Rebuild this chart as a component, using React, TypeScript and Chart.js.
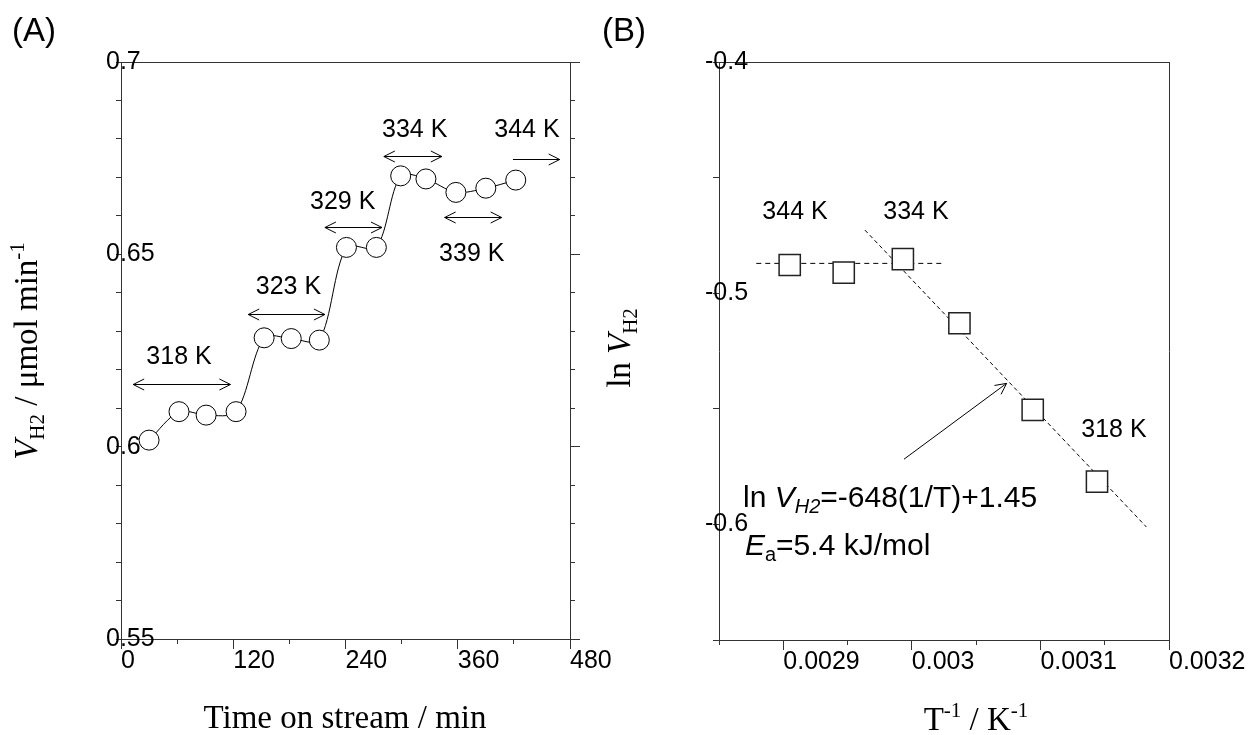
import React, { useEffect, useRef } from 'react';
import { Chart, registerables } from 'chart.js';

Chart.register(...registerables);

const SANS = '"Liberation Sans", Arial, sans-serif';
const SERIF = '"Liberation Serif", "Times New Roman", serif';
const AXIS_COLOR = '#333333';

// ---------- Panel A : rate vs time on stream ----------
const TIME_MIN = [30, 62, 91, 123, 153, 182, 212, 241, 273, 299, 326, 358, 390, 422];
const RATE_H2 = [0.6017, 0.6091, 0.6082, 0.6091, 0.6283, 0.6281, 0.6277, 0.6518, 0.6518, 0.6704, 0.6696, 0.6661, 0.6672, 0.6693];
const A_X_MAJOR = [0, 120, 240, 360, 480];
const A_X_MINOR = [0, 60, 120, 180, 240, 300, 360, 420, 480];
const A_Y_TICKS = [0.55, 0.56, 0.57, 0.58, 0.59, 0.6, 0.61, 0.62, 0.63, 0.64, 0.65, 0.66, 0.67, 0.68, 0.69, 0.7];
const A_Y_MAJOR = [0.55, 0.6, 0.65, 0.7];
const A_TEMP_TEXT = ['318 K', '323 K', '329 K', '334 K', '339 K', '344 K'];
const A_TEMP_X = [62, 179, 237, 314, 375, 434];
const A_TEMP_Y = [0.6232, 0.6414, 0.6637, 0.6823, 0.6501, 0.6823];
const A_ARROW_X1 = [13, 136, 218, 281, 346, 419];
const A_ARROW_X2 = [117, 218, 279, 343, 407, 469];
const A_ARROW_Y = [0.6163, 0.6344, 0.657, 0.6756, 0.6596, 0.6748];
const A_ARROW_BOTH = [true, true, true, true, true, false];

// ---------- Panel B : Arrhenius plot ----------
const INV_T = [0.002905, 0.002947, 0.002993, 0.003037, 0.003094, 0.003144];
const LN_RATE = [-0.4878, -0.4911, -0.4853, -0.513, -0.5505, -0.5815];
const FLAT_FIT_X = [0.002879, 0.003024];
const FLAT_FIT_Y = [-0.4871, -0.4871];
const SLOPE_FIT_X = [0.0029635, 0.0031824];
const SLOPE_FIT_Y = [-0.4727, -0.6011];
const B_X_MAJOR = [0.0029, 0.003, 0.0031, 0.0032];
const B_X_MINOR = [0.00285, 0.0029, 0.00295, 0.003, 0.00305, 0.0031, 0.00315, 0.0032];
const B_Y_TICKS = [-0.65, -0.6, -0.55, -0.5, -0.45, -0.4];
const B_Y_MAJOR = [-0.6, -0.5, -0.4];
const B_TEMP_TEXT = ['344 K', '334 K', '318 K'];
const B_TEMP_X = [0.0029091, 0.0030032, 0.0031572];
const B_TEMP_Y = [-0.4651, -0.4651, -0.5592];
const B_ARROW_X = [0.0029939, 0.0030737];
const B_ARROW_Y = [-0.5718, -0.539];
const B_EQ_X = [0.0028687, 0.0028702];
const B_EQ_Y = [-0.5925, -0.6132];

const inList = (arr: number[], v: number) => arr.some((a) => Math.abs(a - v) < 1e-9);

function axis(o: any) {
  const horizontal = o.position === 'top' || o.position === 'bottom';
  return {
    type: 'linear',
    axis: horizontal ? 'x' : 'y',
    position: o.position,
    min: o.min,
    max: o.max,
    bounds: 'data',
    weight: o.weight ?? 0,
    afterBuildTicks: (s: any) => {
      if (o.ticks) s.ticks = o.ticks.map((v: number) => ({ value: v }));
    },
    afterFit: (s: any) => {
      if (horizontal) s.height = o.size;
      else s.width = o.size;
      s.paddingLeft = 0;
      s.paddingRight = 0;
      s.paddingTop = 0;
      s.paddingBottom = 0;
    },
    grid: {
      display: !!o.tl,
      drawOnChartArea: false,
      drawTicks: !!o.tl,
      tickLength: o.tl || 0,
      tickColor: AXIS_COLOR,
      tickWidth: 1,
      lineWidth: 1,
    },
    border: { display: !!o.border, color: AXIS_COLOR, width: 1 },
    ticks: {
      display: !!o.labels,
      autoSkip: false,
      maxRotation: 0,
      minRotation: 0,
      padding: o.padding ?? 0,
      mirror: !!o.mirror,
      align: o.align || 'center',
      crossAlign: o.crossAlign || 'near',
      color: '#000',
      font: { family: SANS, size: 25, lineHeight: 1 },
      callback: o.labels || (() => ''),
    },
  };
}

type Seg = { t: string; px: number; italic?: boolean; dy?: number; fam?: string };

function drawSegs(ctx: CanvasRenderingContext2D, segs: Seg[], x: number, y: number, align: 'left' | 'center') {
  const fontOf = (s: Seg) => `${s.italic ? 'italic ' : ''}${s.px}px ${s.fam || SANS}`;
  const widths = segs.map((s) => {
    ctx.font = fontOf(s);
    return ctx.measureText(s.t).width;
  });
  const total = widths.reduce((a, b) => a + b, 0);
  let cx = align === 'center' ? x - total / 2 : x;
  ctx.textAlign = 'left';
  ctx.textBaseline = 'alphabetic';
  segs.forEach((s, i) => {
    ctx.font = fontOf(s);
    ctx.fillText(s.t, cx, y + (s.dy || 0));
    cx += widths[i];
  });
}

function arrowHead(ctx: CanvasRenderingContext2D, x: number, y: number, dx: number, dy: number) {
  const len = 11;
  const half = 5.5;
  const n = Math.hypot(dx, dy);
  const ux = dx / n;
  const uy = dy / n;
  const bx = x - ux * len;
  const by = y - uy * len;
  ctx.beginPath();
  ctx.moveTo(bx - uy * half, by + ux * half);
  ctx.lineTo(x, y);
  ctx.lineTo(bx + uy * half, by - ux * half);
  ctx.stroke();
}

const overlayA = {
  id: 'overlayA',
  afterDraw(chart: any) {
    const ctx: CanvasRenderingContext2D = chart.ctx;
    const sx = chart.scales.x;
    const sy = chart.scales.y;
    ctx.save();
    ctx.fillStyle = '#000';
    ctx.strokeStyle = '#000';
    ctx.lineWidth = 1;
    ctx.font = `25px ${SANS}`;
    ctx.textAlign = 'center';
    ctx.textBaseline = 'middle';
    A_TEMP_TEXT.forEach((t, i) => {
      ctx.fillText(t, sx.getPixelForValue(A_TEMP_X[i]), sy.getPixelForValue(A_TEMP_Y[i]));
    });
    A_ARROW_Y.forEach((yv, i) => {
      const x1 = sx.getPixelForValue(A_ARROW_X1[i]);
      const x2 = sx.getPixelForValue(A_ARROW_X2[i]);
      const y = Math.round(sy.getPixelForValue(yv)) + 0.5;
      ctx.beginPath();
      ctx.moveTo(x1, y);
      ctx.lineTo(x2, y);
      ctx.stroke();
      arrowHead(ctx, x2, y, 1, 0);
      if (A_ARROW_BOTH[i]) arrowHead(ctx, x1, y, -1, 0);
    });
    ctx.font = `33px ${SANS}`;
    ctx.textAlign = 'left';
    ctx.textBaseline = 'alphabetic';
    ctx.fillText('(A)', 12, 41);
    drawSegs(ctx, [{ t: 'Time on stream / min', px: 33, fam: SERIF }], 345, 728, 'center');
    ctx.translate(37, 351);
    ctx.rotate(-Math.PI / 2);
    drawSegs(
      ctx,
      [
        { t: 'V', px: 33, italic: true, fam: SERIF },
        { t: 'H2', px: 21, fam: SERIF, dy: 7 },
        { t: ' / \u03BCmol min', px: 33, fam: SERIF },
        { t: '-1', px: 21, fam: SERIF, dy: -13 },
      ],
      0,
      0,
      'center'
    );
    ctx.restore();
  },
};

const overlayB = {
  id: 'overlayB',
  afterDraw(chart: any) {
    const ctx: CanvasRenderingContext2D = chart.ctx;
    const sx = chart.scales.x;
    const sy = chart.scales.y;
    ctx.save();
    ctx.fillStyle = '#000';
    ctx.strokeStyle = '#000';
    ctx.lineWidth = 1;
    ctx.font = `25px ${SANS}`;
    ctx.textAlign = 'center';
    ctx.textBaseline = 'middle';
    B_TEMP_TEXT.forEach((t, i) => {
      ctx.fillText(t, sx.getPixelForValue(B_TEMP_X[i]), sy.getPixelForValue(B_TEMP_Y[i]));
    });
    const ax1 = sx.getPixelForValue(B_ARROW_X[0]);
    const ay1 = sy.getPixelForValue(B_ARROW_Y[0]);
    const ax2 = sx.getPixelForValue(B_ARROW_X[1]);
    const ay2 = sy.getPixelForValue(B_ARROW_Y[1]);
    ctx.beginPath();
    ctx.moveTo(ax1, ay1);
    ctx.lineTo(ax2, ay2);
    ctx.stroke();
    arrowHead(ctx, ax2, ay2, ax2 - ax1, ay2 - ay1);
    drawSegs(
      ctx,
      [
        { t: 'ln ', px: 30 },
        { t: 'V', px: 30, italic: true },
        { t: 'H2', px: 20, italic: true, dy: 6 },
        { t: '=-648(1/T)+1.45', px: 30 },
      ],
      sx.getPixelForValue(B_EQ_X[0]),
      sy.getPixelForValue(B_EQ_Y[0]),
      'left'
    );
    drawSegs(
      ctx,
      [
        { t: 'E', px: 30, italic: true },
        { t: 'a', px: 20, dy: 6 },
        { t: '=5.4 kJ/mol', px: 30 },
      ],
      sx.getPixelForValue(B_EQ_X[1]),
      sy.getPixelForValue(B_EQ_Y[1]),
      'left'
    );
    ctx.font = `33px ${SANS}`;
    ctx.textAlign = 'left';
    ctx.textBaseline = 'alphabetic';
    ctx.fillText('(B)', 602, 41);
    drawSegs(
      ctx,
      [
        { t: 'T', px: 33, fam: SERIF },
        { t: '-1', px: 21, fam: SERIF, dy: -13 },
        { t: ' / K', px: 33, fam: SERIF },
        { t: '-1', px: 21, fam: SERIF, dy: -13 },
      ],
      976,
      730,
      'center'
    );
    ctx.translate(630, 348);
    ctx.rotate(-Math.PI / 2);
    drawSegs(
      ctx,
      [
        { t: 'ln ', px: 33, fam: SERIF },
        { t: 'V', px: 33, italic: true, fam: SERIF },
        { t: 'H2', px: 21, fam: SERIF, dy: 7 },
      ],
      0,
      0,
      'center'
    );
    ctx.restore();
  },
};

function buildA() {
  return {
    type: 'line',
    data: {
      datasets: [
        {
          data: TIME_MIN.map((t, i) => ({ x: t, y: RATE_H2[i] })),
          xAxisID: 'x',
          yAxisID: 'y',
          borderColor: '#000',
          borderWidth: 1,
          tension: 0.3,
          fill: false,
          pointRadius: 10,
          pointStyle: 'circle',
          pointBackgroundColor: '#fff',
          pointBorderColor: '#000',
          pointBorderWidth: 1,
        },
      ],
    },
    options: {
      responsive: false,
      animation: false,
      events: [],
      layout: { padding: { left: 106, right: 668, top: 62, bottom: 56 } },
      plugins: { legend: { display: false }, tooltip: { enabled: false } },
      scales: {
        x: axis({ position: 'bottom', min: 0, max: 480, ticks: A_X_MAJOR, tl: 10, size: 40, weight: 1, border: true, labels: (v: number) => String(v), align: 'start' }),
        xm: axis({ position: 'bottom', min: 0, max: 480, ticks: A_X_MINOR, tl: 5, size: 0, weight: 0 }),
        xt: axis({ position: 'top', min: 0, max: 480, size: 0, border: true }),
        y: axis({
          position: 'left', min: 0.55, max: 0.7, ticks: A_Y_TICKS, tl: 5, size: 15, border: true, mirror: true, padding: -15,
          labels: (v: number) => (inList(A_Y_MAJOR, v) ? String(v) : ''),
        }),
        yr: axis({ position: 'right', min: 0.55, max: 0.7, ticks: A_Y_MAJOR, tl: 10, size: 10, weight: 1, border: true }),
        yrm: axis({ position: 'right', min: 0.55, max: 0.7, ticks: A_Y_TICKS, tl: 5, size: 0, weight: 0 }),
      },
    },
    plugins: [overlayA],
  };
}

function buildB() {
  return {
    type: 'line',
    data: {
      datasets: [
        {
          data: INV_T.map((t, i) => ({ x: t, y: LN_RATE[i] })),
          xAxisID: 'x',
          yAxisID: 'y',
          showLine: false,
          pointStyle: 'rect',
          pointRadius: 15,
          pointBackgroundColor: '#fff',
          pointBorderColor: '#222',
          pointBorderWidth: 1.5,
          order: 0,
        },
        {
          data: FLAT_FIT_X.map((t, i) => ({ x: t, y: FLAT_FIT_Y[i] })),
          xAxisID: 'x',
          yAxisID: 'y',
          borderColor: '#000',
          borderWidth: 1,
          borderDash: [5, 4],
          pointRadius: 0,
          fill: false,
          order: 1,
        },
        {
          data: SLOPE_FIT_X.map((t, i) => ({ x: t, y: SLOPE_FIT_Y[i] })),
          xAxisID: 'x',
          yAxisID: 'y',
          borderColor: '#000',
          borderWidth: 1,
          borderDash: [4, 3],
          pointRadius: 0,
          fill: false,
          order: 2,
        },
      ],
    },
    options: {
      responsive: false,
      animation: false,
      events: [],
      layout: { padding: { left: 705, right: 79, top: 62, bottom: 55 } },
      plugins: { legend: { display: false }, tooltip: { enabled: false } },
      scales: {
        x: axis({
          position: 'bottom', min: 0.00285, max: 0.0032, ticks: B_X_MAJOR, tl: 10, size: 40, weight: 1, border: true, align: 'start',
          labels: (v: number) => String(Number(v.toFixed(5))),
        }),
        xm: axis({ position: 'bottom', min: 0.00285, max: 0.0032, ticks: B_X_MINOR, tl: 5, size: 0, weight: 0 }),
        xt: axis({ position: 'top', min: 0.00285, max: 0.0032, size: 0, border: true }),
        y: axis({
          position: 'left', min: -0.65, max: -0.4, ticks: B_Y_TICKS, tl: 6, size: 14, border: true, mirror: true, padding: -14,
          labels: (v: number) => (inList(B_Y_MAJOR, v) ? String(v) : ''),
        }),
        yr: axis({ position: 'right', min: -0.65, max: -0.4, size: 0, border: true }),
      },
    },
    plugins: [overlayB],
  };
}

function ChartCanvas({ make }: { make: () => any }) {
  const ref = useRef<HTMLCanvasElement>(null);
  useEffect(() => {
    if (!ref.current) return;
    const chart = new Chart(ref.current, make() as any);
    return () => chart.destroy();
  }, []);
  return (
    <canvas
      ref={ref}
      width={1248}
      height={735}
      style={{ position: 'absolute', left: 0, top: 0, width: 1248, height: 735 }}
    />
  );
}

export default function App() {
  return (
    <div style={{ position: 'fixed', left: 0, top: 0, width: 1248, height: 735, background: '#fff', overflow: 'hidden' }}>
      <ChartCanvas make={buildA} />
      <ChartCanvas make={buildB} />
    </div>
  );
}
